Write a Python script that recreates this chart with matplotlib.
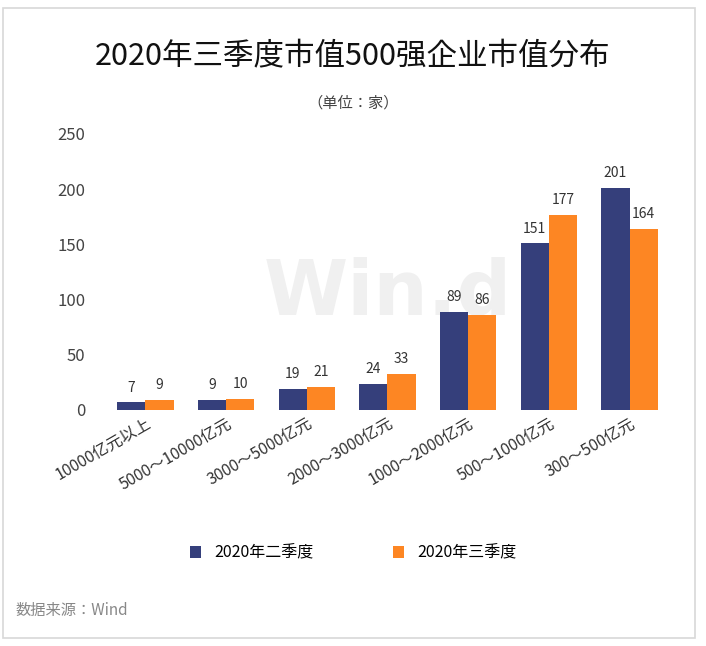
import matplotlib.pyplot as plt
import numpy as np
from matplotlib import font_manager
from matplotlib.patches import Rectangle

# pick a CJK font file present on the system
cjk = [f for f in font_manager.findSystemFonts() if 'CJK' in f or 'cjk' in f.lower()]
for f in cjk:
    font_manager.fontManager.addfont(f)
names = sorted({font_manager.FontProperties(fname=f).get_name() for f in cjk})
fam = [n for n in names if 'SC' in n] or names
plt.rcParams['font.family'] = fam[:1] + ['DejaVu Sans']

categories = ['10000亿元以上', '5000～10000亿元', '3000～5000亿元', '2000～3000亿元',
              '1000～2000亿元', '500～1000亿元', '300～500亿元']
q2 = [7, 9, 19, 24, 89, 151, 201]
q3 = [9, 10, 21, 33, 86, 177, 164]
yticks = [0, 50, 100, 150, 200, 250]

W, H = 706, 646
fig = plt.figure(figsize=(W / 100, H / 100), dpi=100)
fig.patch.set_facecolor('white')
fig.patches.append(Rectangle((3 / W, 8 / H), 692 / W, 630 / H, transform=fig.transFigure,
                             fill=False, edgecolor='#d8d8d8', linewidth=1.2))

ax = fig.add_axes([105 / W, (H - 410) / H, 565 / W, 276 / H])
x = np.arange(len(categories))
w = 0.35
c1, c2 = '#353f7b', '#fd8623'
b1 = ax.bar(x - w / 2, q2, w, color=c1, label='2020年二季度', zorder=2)
b2 = ax.bar(x + w / 2, q3, w, color=c2, label='2020年三季度', zorder=2)
for bars, vals in ((b1, q2), (b2, q3)):
    for b, v in zip(bars, vals):
        ax.text(b.get_x() + b.get_width() / 2, v + 7, str(v), ha='center', va='bottom',
                fontsize=10, color='#333333')

ax.set_xlim(-0.5, len(categories) - 0.5)
ax.set_ylim(0, 250)
ax.set_yticks(yticks)
ax.set_yticklabels([str(t) for t in yticks], fontsize=12, color='#444444')
ax.set_xticks(x)
ax.set_xticklabels(categories, rotation=30, ha='right', rotation_mode='anchor',
                   fontsize=11.5, color='#333333')
ax.tick_params(length=0, axis='both')
ax.tick_params(axis='y', pad=14)
for s in ax.spines.values():
    s.set_visible(False)

ax.text(0.5, 0.42, 'Win.d', transform=ax.transAxes, fontsize=55, color='#f0f0f0',
        ha='center', va='center', zorder=0, fontweight='bold', family='DejaVu Sans')

fig.text(0.5, (H - 57) / H, '2020年三季度市值500强企业市值分布', ha='center', va='center',
         fontsize=22, color='#111111')
fig.text(0.5, (H - 103) / H, '（单位：家）', ha='center', va='center', fontsize=11, color='#444444')
fig.legend(handles=[b1, b2], loc='center', bbox_to_anchor=(0.5, (H - 553) / H), ncol=2,
           frameon=False, fontsize=11.5, handlelength=0.7, handleheight=0.7, columnspacing=5)
fig.text(15 / W, (H - 610) / H, '数据来源：Wind', ha='left', va='center', fontsize=11, color='#888888')

fig.savefig('out.png', dpi=100)
